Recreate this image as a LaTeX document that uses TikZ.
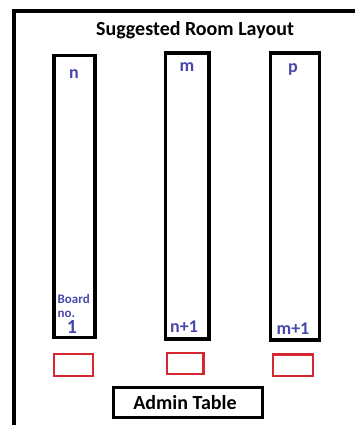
\documentclass[tikz,border=0pt]{standalone}
\usepackage{fontspec}
\setmainfont{Carlito}
\definecolor{lbl}{RGB}{72,72,170}
\definecolor{seat}{RGB}{215,40,50}
\begin{document}
\begin{tikzpicture}[x=1pt,y=-1pt,
  board/.style={draw=black,line width=3.6pt},
  chair/.style={draw=seat,line width=2.8pt},
  admin/.style={draw=black,line width=3.6pt},
  tag/.style={text=lbl,font=\bfseries\fontsize{18}{18}\selectfont,inner sep=0pt}]
\useasboundingbox (0,0) rectangle (355,425);
% room walls (top and left)
\draw[line width=3.2pt] (14,431) -- (14,11) -- (360,11);
\node[font=\bfseries\fontsize{20}{20}\selectfont,inner sep=0pt] (title) at (195,30) {Suggested Room Layout};
% boards
\draw[board] (54,55.5) rectangle (95,337.5);
\draw[board] (165.5,53) rectangle (209,339);
\draw[board] (270.5,53) rectangle (319.5,340);
\node[tag] (ln) at (74,74) {n};
\node[tag] (lm) at (187,67) {m};
\node[tag] (lp) at (293,69) {p};
\node[tag,font=\bfseries\fontsize{13}{14}\selectfont,align=left,anchor=west] (lb) at (57.5,306) {Board\\no.};
\node[tag,font=\bfseries\fontsize{20}{20}\selectfont] (l1) at (72,327) {1};
\node[tag] (l2) at (184,327) {n+1};
\node[tag] (l3) at (293,329) {m+1};
% chairs
\draw[chair] (54,354) rectangle (93,376);
\draw[chair] (167,353) rectangle (203.5,374);
\draw[chair] (273,354.5) rectangle (313,376);
% admin table
\draw[admin] (113.5,387.5) rectangle (262.5,417.5);
\node[font=\bfseries\fontsize{20}{20}\selectfont,inner sep=0pt] (at) at (185,403) {Admin Table};
\end{tikzpicture}
\end{document}
